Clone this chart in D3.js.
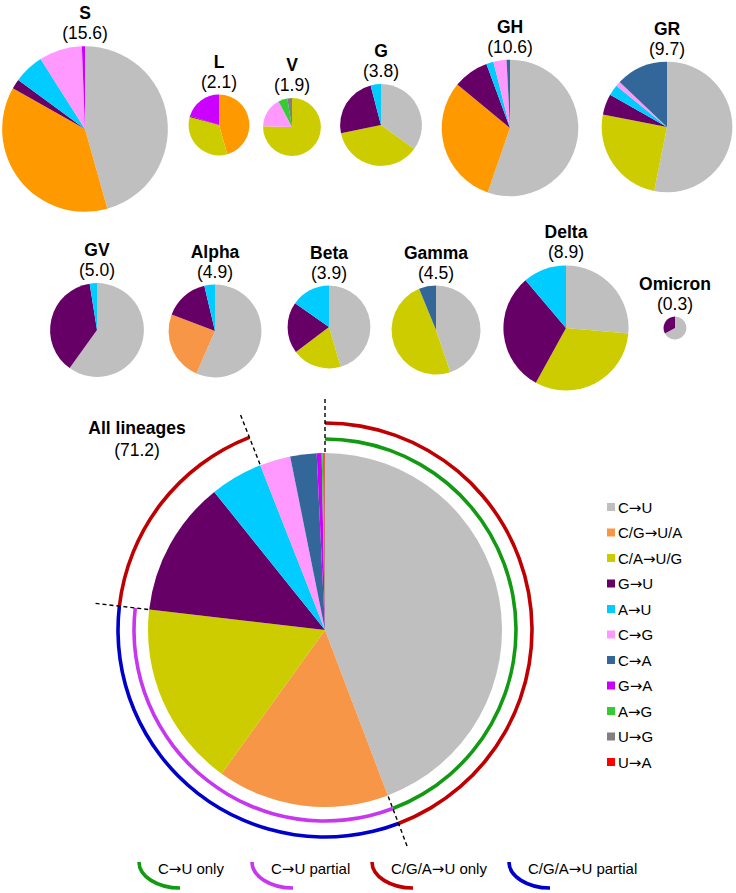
<!DOCTYPE html>
<html><head><meta charset="utf-8">
<script src="https://cdn.jsdelivr.net/npm/d3@7/dist/d3.min.js"></script>
<style>
body{margin:0;background:#fff}
text{font-family:"Liberation Sans",Arial,Helvetica,sans-serif;fill:#000}
tspan.arr{font-family:"DejaVu Sans",sans-serif}
</style>
</head><body>
<svg id="chart" width="736" height="893"></svg>
<script>
// ---------------- DATA ----------------
const categories = ["C→U","C/G→U/A","C/A→U/G","G→U","A→U","C→G","C→A","G→A","A→G","U→G","U→A"];
const lineages   = ["S","L","V","G","GH","GR","GV","Alpha","Beta","Gamma","Delta","Omicron","All lineages"];
const totals     = [15.6,2.1,1.9,3.8,10.6,9.7,5.0,4.9,3.9,4.5,8.9,0.3,71.2];
// percentage share of each category (order = categories), per lineage
const sharesS       = [45.6,37.5,0,1.9,5.9,8.4,0,0.6,0,0,0];
const sharesL       = [0,45.6,33.7,0.5,0,0,0,20.2,0,0,0];
const sharesV       = [0,0,75.4,0,0,16.8,0,0,5.1,2.6,0];
const sharesG       = [35.0,0,36.8,24.2,4.1,0,0,0,0,0,0];
const sharesGH      = [55.2,30.6,0,8.4,1.7,3.1,0.8,0,0,0,0];
const sharesGR      = [53.1,0,24.9,5.1,2.7,1.2,12.9,0,0,0,0];
const sharesGV      = [59.9,0,0,37.6,2.5,0,0,0,0,0,0];
const sharesAlpha   = [56.6,24.3,0,15.5,3.7,0,0,0,0,0,0];
const sharesBeta    = [45.5,0,19.3,20.0,15.3,0,0,0,0,0,0];
const sharesGamma   = [44.8,0,49.0,0,0,0,6.2,0,0,0,0];
const sharesDelta   = [26.4,0,31.6,30.8,11.2,0,0,0,0,0,0];
const sharesOmicron = [67.0,0,0,33.0,0,0,0,0,0,0,0];
const sharesAll     = [44.2,15.7,16.9,12.4,4.8,2.8,2.4,0.45,0.1,0.15,0.05];
const allShares = [sharesS,sharesL,sharesV,sharesG,sharesGH,sharesGR,sharesGV,sharesAlpha,sharesBeta,sharesGamma,sharesDelta,sharesOmicron,sharesAll];
const ringLegend = ["C→U only","C→U partial","C/G/A→U only","C/G/A→U partial"];

// ---------------- STYLE / LAYOUT ----------------
const colors = ["#bfbfbf","#f79646","#cccc00","#660066","#00ccff","#ff99ff","#336699","#cc00ff","#33cc33","#808080","#ff0000"];
const brightOrange = {"S":1,"L":1,"GH":1};
const centers = [[85,129],[219,125],[292,127],[381,125],[510,128],[667,127],
                 [97,330],[215,331],[329,327],[436,330],[566,328],[675,328],[325,630]];
const ringCol = {green:"#139a13", magenta:"#c837f0", red:"#c00000", blue:"#0000cc"};

const svg = d3.select("#chart");
const rScale = d3.scaleSqrt().domain([0,71.2]).range([0,177]);
const pie = d3.pie().sort(null).value(d=>d);

function arrowText(sel, str){
  const parts = str.split("→");
  parts.forEach((p,k)=>{
    if(k>0) sel.append("tspan").attr("class","arr").text("→");
    sel.append("tspan").text(p);
  });
  return sel;
}

lineages.forEach((name,i)=>{
  const [cx,cy] = centers[i];
  const r = rScale(totals[i]);
  const g = svg.append("g").attr("transform",`translate(${cx},${cy})`);
  const arc = d3.arc().innerRadius(0).outerRadius(r);
  g.selectAll("path").data(pie(allShares[i])).join("path")
    .attr("d",arc)
    .attr("fill",(d,j)=> (j===1 && brightOrange[name]) ? "#ff9900" : colors[j]);
  if(name!=="All lineages"){
    g.append("text").attr("x",0).attr("y",-r-27).attr("text-anchor","middle")
      .style("font-weight","bold").style("font-size","17.5px").text(name);
    g.append("text").attr("x",0).attr("y",-r-7).attr("text-anchor","middle")
      .style("font-size","17.5px").text(`(${totals[i].toFixed(1)})`);
  }
});

svg.append("text").attr("x",137).attr("y",434).attr("text-anchor","middle")
  .style("font-weight","bold").style("font-size","17.5px").text("All lineages");
svg.append("text").attr("x",137).attr("y",456).attr("text-anchor","middle")
  .style("font-size","17.5px").text("(71.2)");

// Rings around the big pie
const [acx,acy] = centers[12];
const R = rScale(71.2);
const allArcs = pie(sharesAll);
const endA = i => allArcs[i].endAngle;
const gRing = svg.append("g").attr("transform",`translate(${acx},${acy})`);
const ringInner = 191, ringOuter = 207, sw = 3.6;
function ring(rad,a0,a1,col){
  gRing.append("path")
    .attr("d",d3.arc().innerRadius(rad-sw/2).outerRadius(rad+sw/2).startAngle(a0).endAngle(a1)())
    .attr("fill",col);
}
ring(ringInner,0,endA(0),ringCol.green);
ring(ringInner,endA(0),endA(2),ringCol.magenta);
ring(ringOuter,0,endA(0),ringCol.red);
ring(ringOuter,endA(2),endA(4),ringCol.red);
ring(ringOuter,endA(0),endA(2),ringCol.blue);
[0,endA(0),endA(2),endA(4)].forEach(a=>{
  gRing.append("line")
    .attr("x1",(R+1)*Math.sin(a)).attr("y1",-(R+1)*Math.cos(a))
    .attr("x2",(R+55)*Math.sin(a)).attr("y2",-(R+55)*Math.cos(a))
    .attr("stroke","#000").attr("stroke-width",1.4).attr("stroke-dasharray","4,3");
});

// Right legend
const lg = svg.append("g");
categories.forEach((c,i)=>{
  const y = 507 + i*25.5;
  lg.append("rect").attr("x",607).attr("y",y-4).attr("width",8).attr("height",8).attr("fill",colors[i]);
  arrowText(lg.append("text").attr("x",618).attr("y",y+5.5).style("font-size","15px"), c);
});

// Bottom ring legend
const ringLegendX = [139,252,372,509];
const ringLegendCol = [ringCol.green,ringCol.magenta,ringCol.red,ringCol.blue];
ringLegend.forEach((t,i)=>{
  const x = ringLegendX[i];
  svg.append("path").attr("d",`M${x},862 A41,26 0 0 0 ${x+41},888`)
    .attr("fill","none").attr("stroke",ringLegendCol[i]).attr("stroke-width",3.6);
  arrowText(svg.append("text").attr("x",x+19).attr("y",874).style("font-size","15px"), t);
});
</script>
</body></html>
